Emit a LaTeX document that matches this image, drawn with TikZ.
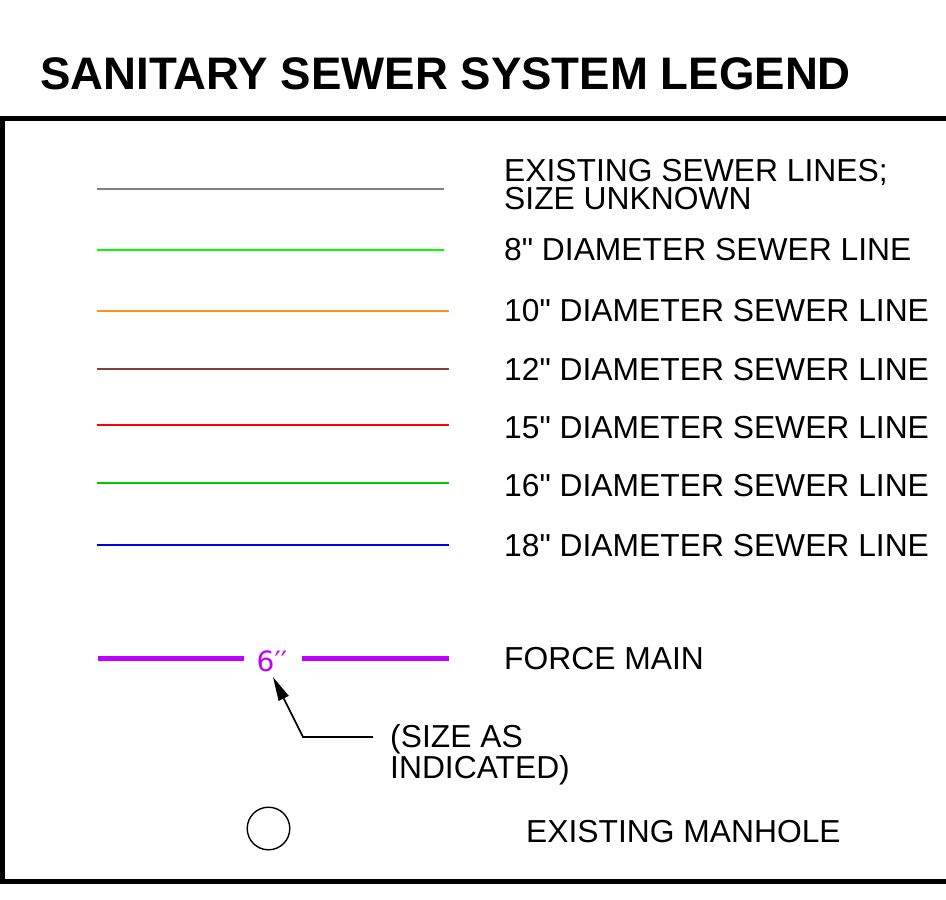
\documentclass[tikz,border=0pt]{standalone}
\usepackage{fontspec}
\setmainfont{Liberation Sans}[Ligatures=TeXOff]
\newfontfamily\dejavu{DejaVu Sans}
\usetikzlibrary{arrows.meta}
\definecolor{exgray}{RGB}{128,128,128}
\definecolor{lime8}{RGB}{0,255,0}
\definecolor{orange10}{RGB}{255,145,20}
\definecolor{brown12}{RGB}{140,60,60}
\definecolor{red15}{RGB}{255,0,0}
\definecolor{green16}{RGB}{0,200,0}
\definecolor{blue18}{RGB}{0,0,230}
\definecolor{forcemain}{RGB}{190,0,255}
\tikzset{
  lbl/.style={anchor=base west, inner sep=0pt, font=\fontsize{31.8}{31.8}\selectfont},
  lbltwo/.style={anchor=north west, inner sep=0pt, align=left, font=\fontsize{31.8}{28}\selectfont},
  sample/.style={line width=2pt},
  fm/.style={line width=5pt, draw=forcemain}
}
\begin{document}
\begin{tikzpicture}[x=1pt,y=-1pt]
\useasboundingbox (0,0) rectangle (946,900);
\fill[white] (0,0) rectangle (946,900);
% title
\node[anchor=base west, inner sep=0pt, font=\fontsize{45.6}{45.6}\selectfont\bfseries] (title) at (40,89) {SANITARY SEWER SYSTEM LEGEND};
% frame
\draw[line width=4.5pt] (960,118.5) -- (2.5,118.5) -- (2.5,881.5) -- (960,881.5);
% sample lines
\draw[sample, exgray] (97,189) -- (444,189);
\draw[sample, lime8] (97,250) -- (444,250);
\draw[sample, orange10] (97,311) -- (449,311);
\draw[sample, brown12] (97,369) -- (449,369);
\draw[sample, red15] (97,425) -- (449,425);
\draw[sample, green16] (97,483) -- (449,483);
\draw[sample, blue18] (97,545) -- (449,545);
% labels
\node[lbltwo] (l0) at (504,159.2) {EXISTING SEWER LINES;\\SIZE UNKNOWN};
\node[lbl] (l8) at (504,260.5) {8" DIAMETER SEWER LINE};
\node[lbl] (l10) at (504,321.5) {10" DIAMETER SEWER LINE};
\node[lbl] (l12) at (504,380) {12" DIAMETER SEWER LINE};
\node[lbl] (l15) at (504,438) {15" DIAMETER SEWER LINE};
\node[lbl] (l16) at (504,496) {16" DIAMETER SEWER LINE};
\node[lbl] (l18) at (504,556) {18" DIAMETER SEWER LINE};
% force main
\draw[fm] (98,658.5) -- (244,658.5);
\draw[fm] (302,658.5) -- (449,658.5);
\node[inner sep=0pt, text=forcemain, font=\dejavu\fontsize{28}{28}\selectfont] (six) at (272,661) {6′′};
\node[lbl] (lfm) at (504,669.5) {FORCE MAIN};
\coordinate (lead) at (373,737);
\coordinate (bend) at (303,737);
\coordinate (tip) at (273,677);
\draw[line width=1.6pt, -{Triangle[length=24pt,width=11pt]}] (lead) -- (bend) -- (tip);
\node[lbltwo] (sz) at (390,724.7) {(SIZE AS\\INDICATED)};
% manhole
\draw[line width=1.4pt] (268.5,828.5) circle (21.3);
\node[lbl] (mh) at (526,842.5) {EXISTING MANHOLE};
\end{tikzpicture}
\end{document}
